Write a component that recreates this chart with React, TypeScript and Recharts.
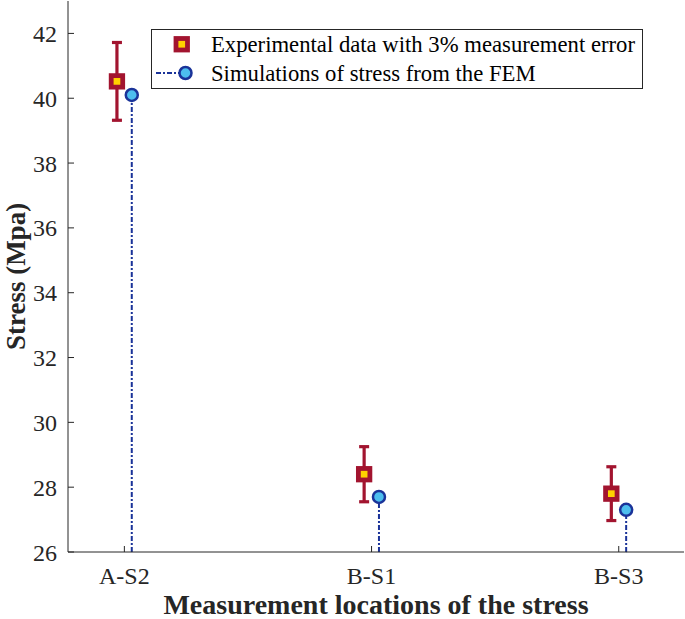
import {
  ComposedChart,
  Scatter,
  ErrorBar,
  XAxis,
  YAxis,
  Legend,
} from 'recharts';

// ──────────────────────────────────────────────────────────
// Data
// ──────────────────────────────────────────────────────────

const locations = ['A-S2', 'B-S1', 'B-S3'];
const expStress = [40.52, 28.4, 27.8];
const expError = [1.2, 0.85, 0.83];
const simStress = [40.1, 27.7, 27.3];

const yTicks = [26, 28, 30, 32, 34, 36, 38, 40, 42];
const xTicks = [1, 2, 3];

const Y_MIN = 26;
const Y_MAX = 43;
const OFFSET = 0.03;

// ──────────────────────────────────────────────────────────
// Colors / fonts
// ──────────────────────────────────────────────────────────

const AXIS = '#262626';
const CRIMSON = '#A2142F';
const YELLOW = '#FFD200';
const BLUE_EDGE = '#1A3399';
const BLUE_FILL = '#4DBEEE';
const FONT = '"Liberation Serif", "Times New Roman", serif';

const expData = locations.map((name, i) => ({
  name,
  x: i + 1 - OFFSET,
  y: expStress[i],
  err: expError[i],
}));

const simData = locations.map((name, i) => ({
  name,
  x: i + 1 + OFFSET,
  y: simStress[i],
  stem: [simStress[i] - Y_MIN, 0],
}));

function SquareMarker(props: any) {
  const { cx, cy } = props;
  return (
    <rect
      x={cx - 5.75}
      y={cy - 5.75}
      width={11.5}
      height={11.5}
      fill={YELLOW}
      stroke={CRIMSON}
      strokeWidth={4.8}
    />
  );
}

function CircleMarker(props: any) {
  const { cx, cy } = props;
  return (
    <circle cx={cx} cy={cy} r={6} fill={BLUE_FILL} stroke={BLUE_EDGE} strokeWidth={2.5} />
  );
}

function BoxLegend() {
  const row = { display: 'flex', alignItems: 'center', height: 29 } as const;
  return (
    <div
      style={{
        border: `1px solid ${AXIS}`,
        background: '#fff',
        width: 490,
        height: 58,
        boxSizing: 'content-box',
        fontFamily: FONT,
        fontSize: 22.7,
        color: '#000',
        lineHeight: '29px',
        whiteSpace: 'nowrap',
      }}
    >
      <div style={row}>
        <svg width={59} height={29} style={{ flex: 'none' }}>
          <rect x={24} y={8.5} width={11.5} height={11.5} fill={YELLOW} stroke={CRIMSON} strokeWidth={4.8} />
        </svg>
        <span>Experimental data with 3% measurement error</span>
      </div>
      <div style={row}>
        <svg width={59} height={29} style={{ flex: 'none' }}>
          <line x1={4} y1={14} x2={28} y2={14} stroke={BLUE_EDGE} strokeWidth={2} strokeDasharray="5 2 2 2" />
          <circle cx={33.5} cy={14} r={6} fill={BLUE_FILL} stroke={BLUE_EDGE} strokeWidth={2.5} />
        </svg>
        <span>Simulations of stress from the FEM</span>
      </div>
    </div>
  );
}

export default function App() {
  return (
    <div style={{ position: 'absolute', left: 0, top: 0, background: '#fff', fontFamily: FONT }}>
      <ComposedChart
        width={685}
        height={619}
        margin={{ top: 1, right: 1, bottom: 0, left: 0 }}
        style={{ fontFamily: FONT }}
      >
        <XAxis
          xAxisId="b"
          type="number"
          dataKey="x"
          domain={[0.772, 3.264]}
          ticks={xTicks}
          tickFormatter={(v: number) => locations[v - 1] ?? ''}
          height={67}
          tickSize={-6}
          tickMargin={21}
          tick={{ fontSize: 24, fill: AXIS, fontFamily: FONT, style: { fontFamily: FONT } }}
          stroke={AXIS}
          allowDataOverflow
          label={{
            value: 'Measurement locations of the stress',
            position: 'insideBottom',
            offset: 5,
            style: { fontSize: 28, fontWeight: 'bold', fill: AXIS, fontFamily: FONT },
          }}
        />
        <XAxis
          xAxisId="t"
          orientation="top"
          type="number"
          domain={[0.772, 3.264]}
          ticks={xTicks}
          height={0}
          tickSize={-6}
          tick={false}
          stroke={AXIS}
          allowDataOverflow
        />
        <YAxis
          yAxisId="l"
          type="number"
          domain={[Y_MIN, Y_MAX]}
          ticks={yTicks}
          width={68}
          tickSize={-6}
          tickMargin={17}
          tick={{ fontSize: 24, fill: AXIS, fontFamily: FONT, style: { fontFamily: FONT } }}
          stroke={AXIS}
          allowDataOverflow
          label={{
            value: 'Stress (Mpa)',
            angle: -90,
            position: 'insideLeft',
            offset: 15,
            style: { fontSize: 27, fontWeight: 'bold', fill: AXIS, fontFamily: FONT, textAnchor: 'middle' },
          }}
        />
        <YAxis
          yAxisId="r"
          orientation="right"
          type="number"
          domain={[Y_MIN, Y_MAX]}
          ticks={yTicks}
          width={0}
          tickSize={-6}
          tick={false}
          stroke={AXIS}
          allowDataOverflow
        />
        <Legend
          layout="vertical"
          verticalAlign="middle"
          align="center"
          content={() => <BoxLegend />}
          wrapperStyle={{ position: 'absolute', left: 151, top: 29, width: 492, margin: 0 }}
        />
        <Scatter
          name="Simulations of stress from the FEM"
          data={simData}
          xAxisId="b"
          yAxisId="l"
          dataKey="y"
          shape={CircleMarker}
          isAnimationActive={false}
        >
          <ErrorBar
            dataKey="stem"
            direction="y"
            width={0}
            stroke={BLUE_EDGE}
            strokeWidth={2}
            strokeDasharray="5 2 2 2"
            isAnimationActive={false}
          />
        </Scatter>
        <Scatter
          name="Experimental data with 3% measurement error"
          data={expData}
          xAxisId="b"
          yAxisId="l"
          dataKey="y"
          shape={SquareMarker}
          isAnimationActive={false}
        >
          <ErrorBar
            dataKey="err"
            direction="y"
            width={5}
            stroke={CRIMSON}
            strokeWidth={3.2}
            isAnimationActive={false}
          />
        </Scatter>
      </ComposedChart>
    </div>
  );
}
